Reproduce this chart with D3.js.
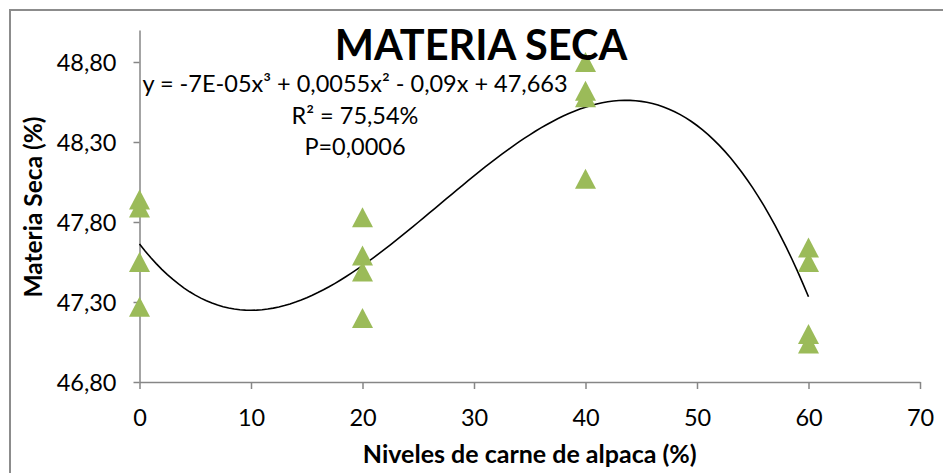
<!DOCTYPE html>
<html lang="es">
<head>
<meta charset="UTF-8">
<title>Materia Seca</title>
<script src="https://cdn.jsdelivr.net/npm/d3@7"></script>
<style>
  body { margin: 0; background: #fff; }
  text { font-family: "Lato", "Open Sans", sans-serif; fill: #000; }
  .tick text { font-size: 23.5px; }
  .axis path, .axis line { stroke: #868686; stroke-width: 1.5px; }
</style>
</head>
<body>
<svg id="chart" width="943" height="473"></svg>
<script>

// data
var niveles = [0, 20, 40, 60];
var materiaSeca = [
  [47.94, 47.89, 47.55, 47.27],   // 0 %
  [47.83, 47.59, 47.49, 47.20],   // 20 %
  [48.80, 48.62, 48.58, 48.07],   // 40 %
  [47.64, 47.55, 47.10, 47.04]    // 60 %
];
var xTicks = [0, 10, 20, 30, 40, 50, 60, 70];
var yTicks = [46.8, 47.3, 47.8, 48.3, 48.8];
var equationLines = ["y = -7E-05x³ + 0,0055x² - 0,09x + 47,663", "R² = 75,54%", "P=0,0006"];

var svg = d3.select("#chart");

// outer chart border (cropped at right / bottom)
svg.append("path")
    .attr("d", "M10,473V10H943")
    .attr("fill", "none")
    .attr("stroke", "#8c8c8c")
    .attr("stroke-width", 2);

var x = d3.scaleLinear().domain([0, 70]).range([139.5, 920]);
var y = d3.scaleLinear().domain([46.8, 49.0]).range([382, 30]);

var fmt = function(d) { return d3.format(".2f")(d).replace(".", ","); };

// axes
var xAxis = svg.append("g")
    .attr("class", "axis")
    .attr("transform", "translate(0," + y(46.8) + ")")
    .call(d3.axisBottom(x).tickValues(xTicks).tickSize(7).tickSizeOuter(0).tickPadding(20));

var yAxis = svg.append("g")
    .attr("class", "axis")
    .attr("transform", "translate(" + x(0) + ",0)")
    .call(d3.axisLeft(y).tickValues(yTicks).tickFormat(fmt).tickSize(6).tickSizeOuter(0).tickPadding(17));
yAxis.selectAll(".tick text").attr("dy", "0.35em");

// cubic least squares fit of the points
var pts = [];
niveles.forEach(function(n, i) {
  materiaSeca[i].forEach(function(v) { pts.push({x: n, y: v}); });
});

function fitPoly(points, deg) {
  var m = deg + 1, A = [], i, j, k;
  for (i = 0; i < m; i++) {
    A.push([]);
    for (j = 0; j < m; j++) A[i].push(d3.sum(points, function(p) { return Math.pow(p.x, i + j); }));
    A[i].push(d3.sum(points, function(p) { return p.y * Math.pow(p.x, i); }));
  }
  for (i = 0; i < m; i++) {
    for (k = i + 1; k < m; k++) {
      var f = A[k][i] / A[i][i];
      for (j = i; j <= m; j++) A[k][j] -= f * A[i][j];
    }
  }
  var c = new Array(m);
  for (i = m - 1; i >= 0; i--) {
    var s = A[i][m];
    for (j = i + 1; j < m; j++) s -= A[i][j] * c[j];
    c[i] = s / A[i][i];
  }
  return c;
}
var coef = fitPoly(pts, 3);
var fitY = function(t) { return coef[0] + coef[1] * t + coef[2] * t * t + coef[3] * t * t * t; };

var line = d3.line()
    .x(function(d) { return x(d); })
    .y(function(d) { return y(fitY(d)); });

svg.append("path")
    .datum(d3.range(0, 60.01, 0.5))
    .attr("fill", "none")
    .attr("stroke", "#000")
    .attr("stroke-width", 1.6)
    .attr("d", line);

// triangle markers
var tri = "M0,-10L10.5,10L-10.5,10Z";
svg.append("g").selectAll("path")
    .data(pts)
    .enter()
    .append("path")
    .attr("d", tri)
    .attr("transform", function(d) { return "translate(" + x(d.x) + "," + y(d.y) + ")"; })
    .attr("fill", "#9bbb59");

// title
svg.append("text")
    .attr("x", 481)
    .attr("y", 60)
    .attr("text-anchor", "middle")
    .style("font-size", "41.5px")
    .style("font-weight", "bold")
    .text("MATERIA SECA");

// trendline label
svg.append("g").selectAll("text")
    .data(equationLines)
    .enter()
    .append("text")
    .attr("x", 355)
    .attr("y", function(d, i) { return 92 + i * 31.5; })
    .attr("text-anchor", "middle")
    .style("font-size", "23.5px")
    .text(function(d) { return d; });

// axis titles
svg.append("text")
    .attr("x", (x(0) + x(70)) / 2)
    .attr("y", 463)
    .attr("text-anchor", "middle")
    .style("font-size", "25px")
    .style("font-weight", "bold")
    .text("Niveles de carne de alpaca (%)");

svg.append("text")
    .attr("transform", "translate(42,207) rotate(-90)")
    .attr("text-anchor", "middle")
    .style("font-size", "24.5px")
    .style("font-weight", "bold")
    .text("Materia Seca (%)");

</script>
</body>
</html>
